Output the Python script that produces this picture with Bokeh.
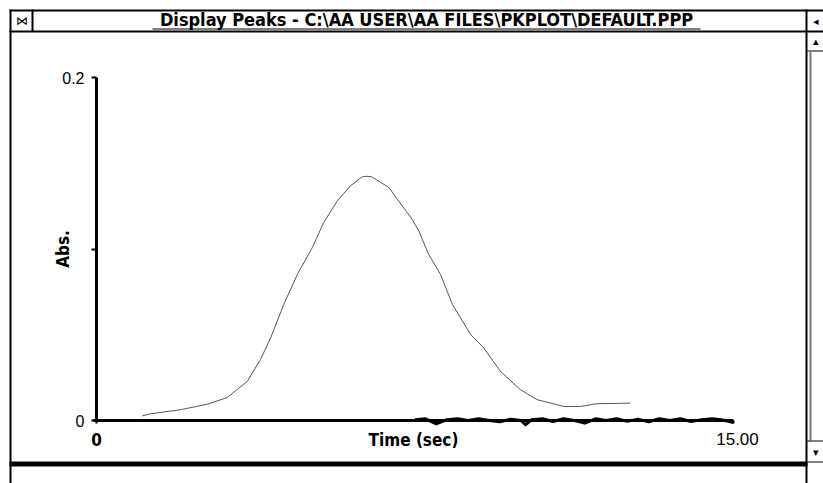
from bokeh.plotting import figure
from bokeh.models import Range1d, FixedTicker, BoxAnnotation, Label
from bokeh.embed import file_html
from bokeh.resources import INLINE

# ---- data ----
time_sec = [1.08, 1.27, 1.98, 2.61, 3.08, 3.55, 3.86, 4.10, 4.41, 4.73, 5.08, 5.35,
            5.67, 5.98, 6.26, 6.37, 6.48, 6.88, 7.08, 7.43, 7.59, 7.82, 8.10, 8.38,
            8.81, 9.12, 9.51, 9.98, 10.38, 11.00, 11.40, 11.79, 12.57]
absorbance = [0.0027, 0.0039, 0.0063, 0.0095, 0.0134, 0.0228, 0.0355, 0.0481, 0.0677,
              0.0852, 0.1008, 0.1154, 0.1281, 0.1368, 0.1421, 0.1424, 0.1421, 0.1360,
              0.1292, 0.1174, 0.1105, 0.0969, 0.0852, 0.0677, 0.0501, 0.0423, 0.0287,
              0.0180, 0.0121, 0.0082, 0.0082, 0.0098, 0.0101]

base_time = [7.5, 7.75, 8.0, 8.25, 8.5, 8.75, 9.0, 9.25, 9.5, 9.75, 10.0, 10.1, 10.25, 10.5,
             10.75, 11.0, 11.25, 11.5, 11.75, 12.0, 12.25, 12.5, 12.75, 13.0, 13.25,
             13.5, 13.75, 14.0, 14.25, 14.5, 14.75, 15.0]
base_abs = [0.0005, 0.001, -0.002, 0.0005, 0.001, 0.0, 0.0010, 0.0, -0.0008, 0.0008, 0.0,
            -0.0025, 0.0005, 0.001, -0.0006, 0.001, 0.0, -0.0015, 0.001, 0.0, 0.001, -0.0005,
            0.0008, -0.0008, 0.001, 0.0, 0.001, -0.0006, 0.0005, 0.001, 0.0003, -0.0012]

y_ticks = [0, 0.1, 0.2]
y_tick_labels = {0: "0", 0.1: "", 0.2: "0.2"}
x_ticks = [0, 15]
x_tick_labels = {0: "0", 15: ""}
x_end_label = "15.00"
window_title = "Display Peaks - C:\\AA USER\\AA FILES\\PKPLOT\\DEFAULT.PPP"

BOLD_FONT = "'Liberation Sans Narrow', 'DejaVu Sans Condensed', 'DejaVu Sans'"
REG_FONT = "Liberation Sans"

# The plot frame covers the whole window picture; the ranges are chosen so that
# t=0..15 and Abs=0..0.2 fall where the original screen drew them.
p = figure(width=823, height=483, output_backend="svg", toolbar_location=None,
           x_range=Range1d(-2.2606, 17.119), y_range=Range1d(-0.036735, 0.24490),
           min_border=0)
p.outline_line_color = None
p.grid.visible = False
p.background_fill_color = "white"
p.border_fill_color = "white"

# x axis
xa = p.xaxis[0]
xa.fixed_location = 0
xa.bounds = (-0.08, 15)
xa.ticker = FixedTicker(ticks=x_ticks)
xa.major_label_overrides = x_tick_labels
xa.minor_tick_line_color = None
xa.axis_line_width = 3
xa.axis_line_color = "black"
xa.major_tick_out = 3
xa.major_tick_in = 0
xa.major_tick_line_width = 2
xa.major_label_standoff = 9
xa.major_label_text_font = BOLD_FONT
xa.major_label_text_font_style = "bold"
xa.major_label_text_font_size = "17px"
xa.major_label_text_color = "black"
xa.axis_label = "Time (sec)"
xa.axis_label_text_font = BOLD_FONT
xa.axis_label_text_font_style = "bold"
xa.axis_label_text_font_size = "17px"
xa.axis_label_text_color = "black"
xa.axis_label_standoff = -19

# y axis
ya = p.yaxis[0]
ya.fixed_location = 0
ya.bounds = (0, 0.2)
ya.ticker = FixedTicker(ticks=y_ticks)
ya.major_label_overrides = y_tick_labels
ya.minor_tick_line_color = None
ya.axis_line_width = 3
ya.axis_line_color = "black"
ya.major_tick_out = 5
ya.major_tick_in = 0
ya.major_tick_line_width = 2
ya.major_label_standoff = 7
ya.major_label_text_font = REG_FONT
ya.major_label_text_font_size = "16px"
ya.major_label_text_color = "black"
ya.axis_label = "Abs."
ya.axis_label_text_font = BOLD_FONT
ya.axis_label_text_font_style = "bold"
ya.axis_label_text_font_size = "17px"
ya.axis_label_text_color = "black"
ya.axis_label_standoff = -14

# data
p.line(base_time, base_abs, line_color="black", line_width=3, line_join="round")
p.line(time_sec, absorbance, line_color="#555555", line_width=1)

p.add_layout(Label(x=15, y=0, text=x_end_label, x_offset=4, y_offset=-12,
                   text_baseline="top", text_align="center", text_font=REG_FONT,
                   text_font_size="17px", text_color="black"))

# ---- window chrome (canvas units) ----
def box(l, r, t, b, fill="black"):
    p.add_layout(BoxAnnotation(left=l, right=r, top=t, bottom=b,
                               left_units="canvas", right_units="canvas",
                               top_units="canvas", bottom_units="canvas",
                               fill_color=fill, fill_alpha=1.0,
                               line_color=None, level="overlay"))

box(9, 11, 9, 483)          # left border
box(9, 823, 9, 11)          # top border
box(9, 823, 30, 32)         # title bar bottom
box(31, 33, 9, 31)          # system box edge
box(805, 807, 9, 483)       # right border
box(807, 823, 50, 51)       # scroll up button bottom
box(809, 811, 51, 440, fill="#777777")  # scroll track
box(807, 823, 440, 441)     # scroll down button top
box(807, 823, 461, 462)     # scroll down button bottom
box(9, 807, 461, 466)       # bottom thick line
box(152, 700, 28, 29)       # title underline

p.add_layout(Label(x=426, y=19, x_units="canvas", y_units="canvas", text=window_title,
                   text_align="center", text_baseline="middle", text_font=BOLD_FONT,
                   text_font_style="bold", text_font_size="18px", text_color="black"))
p.add_layout(Label(x=21, y=20, x_units="canvas", y_units="canvas", text="⋈",
                   text_align="center", text_baseline="middle", text_font_size="12px",
                   text_color="black"))
for ty, ch in [(20, "◂"), (40, "▴"), (451, "▾")]:
    p.add_layout(Label(x=815, y=ty, x_units="canvas", y_units="canvas", text=ch,
                       text_align="center", text_baseline="middle", text_font_size="11px",
                       text_color="black"))

open("out.html", "w").write(file_html(p, INLINE))
